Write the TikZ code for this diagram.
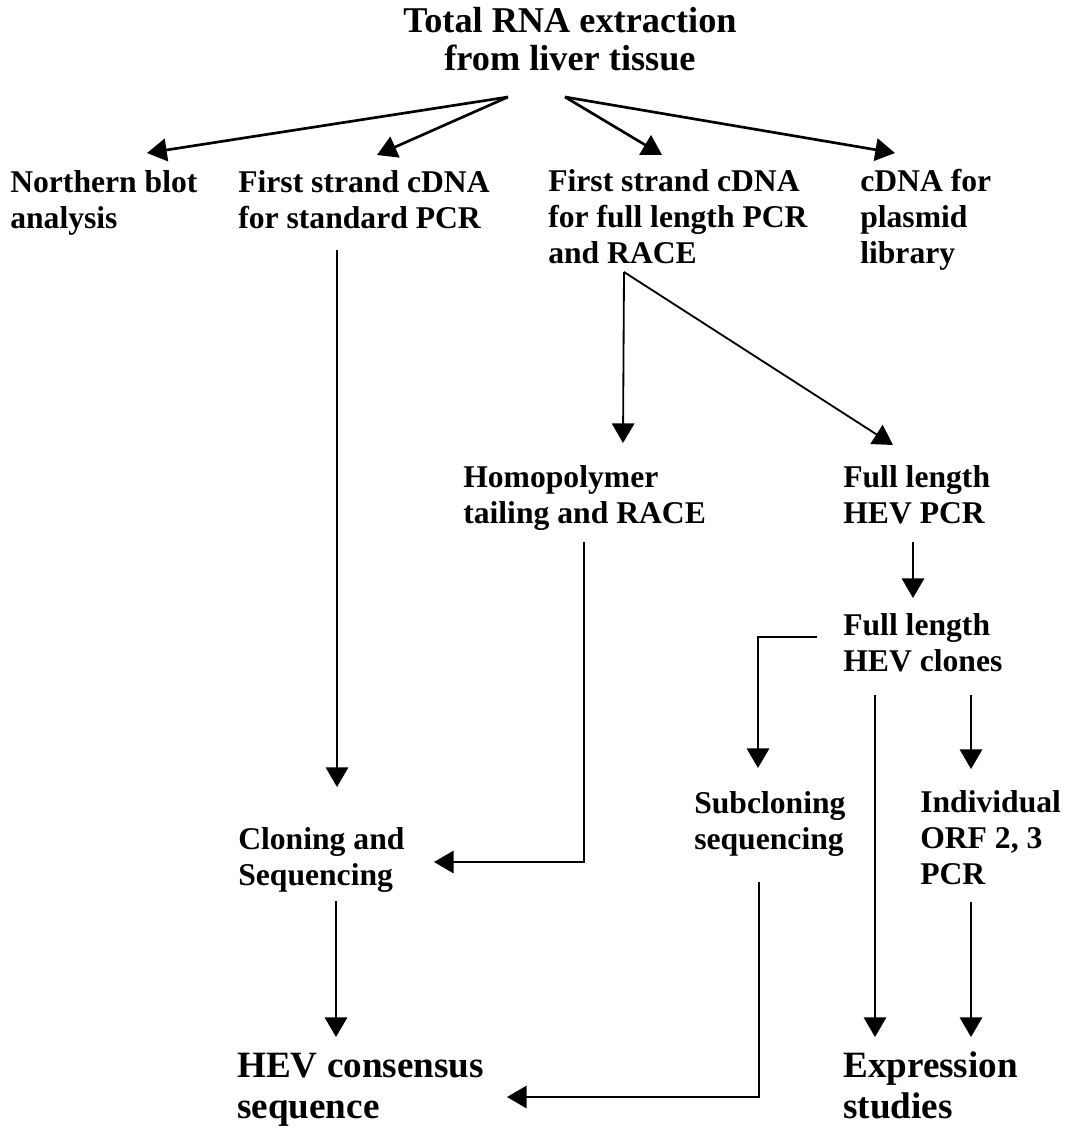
\documentclass[tikz,border=0pt]{standalone}
\usepackage{fontspec}
\setmainfont{Liberation Serif}
\usetikzlibrary{arrows.meta, calc}

\begin{document}
\begin{tikzpicture}[
            x = 0.025cm, y = -0.025cm,
            > = {Triangle[length=14pt, width=16pt]},
            stage/.style = {anchor=base west, align=left, inner sep=0pt,
                font=\fontsize{22.5}{25.3}\selectfont\bfseries},
            goal/.style = {stage, font=\fontsize{26.4}{29}\selectfont\bfseries},
            flow/.style = {draw, ->, line width=1.3pt},
            fan/.style = {flow, line width=1.9pt}
        ]
            \useasboundingbox (0,0) rectangle (1066,1133);

            % Source (nodes sit on the baseline of their last line)
            \node[anchor=base, align=center, inner sep=0pt,
                font=\fontsize{25.8}{26.6}\selectfont\bfseries] (rna) at (570,70)
                {Total RNA extraction\\from liver tissue};

            % First products
            \node[stage] (north) at (10,228) {Northern blot\\analysis};
            \node[stage] (stdcdna) at (238,228) {First strand cDNA\\for standard PCR};
            \node[stage] (fullcdna) at (548,263) {First strand cDNA\\for full length PCR\\and RACE};
            \node[stage] (plasmid) at (860,263) {cDNA for\\plasmid\\library};

            % Middle steps
            \node[stage] (homo) at (463,523) {Homopolymer\\tailing and RACE};
            \node[stage] (fullpcr) at (843,523) {Full length\\HEV PCR};
            \node[stage] (clones) at (843,671) {Full length\\HEV clones};
            \node[stage] (subclone) at (694,849) {Subcloning\\sequencing};
            \node[stage] (orf) at (920,884) {Individual\\ORF 2, 3\\PCR};
            \node[stage] (cloning) at (238,885) {Cloning and\\Sequencing};

            % Results
            \node[goal] (consensus) at (237,1118) {HEV consensus\\sequence};
            \node[goal] (expression) at (843,1118) {Expression\\studies};

            % Fan out from RNA
            \draw[fan] ($(rna.base)+(-62,27)$) -- ($(north.base west)+(137,-75)$);
            \draw[fan] ($(rna.base)+(-62,27)$) -- ($(stdcdna.base west)+(139,-73)$);
            \draw[fan] ($(rna.base)+(-5,27)$) -- ($(fullcdna.base west)+(114,-108)$);
            \draw[fan] ($(rna.base)+(-5,27)$) -- ($(plasmid.base west)+(35,-110)$);

            % Standard PCR branch
            \draw[flow] ($(stdcdna.base west)+(99,22)$) -- ($(cloning.base west)+(99,-98)$);
            \draw[flow] ($(cloning.base west)+(98,16)$) -- ($(consensus.base west)+(99,-81)$);

            % Full length branch
            \draw[flow] ($(fullcdna.base west)+(76,9)$) -- ($(homo.base west)+(160,-80)$);
            \draw[flow] ($(fullcdna.base west)+(76,9)$) -- ($(fullpcr.base west)+(50,-78)$);
            \draw[flow] ($(homo.base west)+(121,19)$) |- ($(cloning.base west)+(196,-23)$);
            \draw[flow] ($(fullpcr.base west)+(70,19)$) -- ($(clones.base west)+(70,-73)$);

            % From the clones
            \draw[flow] ($(clones.base west)+(-26,-34)$) -| ($(subclone.base west)+(64,-81)$);
            \draw[flow] ($(clones.base west)+(32,24)$) -- ($(expression.base west)+(32,-81)$);
            \draw[flow] ($(clones.base west)+(128,24)$) -- ($(orf.base west)+(51,-115)$);
            \draw[flow] ($(subclone.base west)+(65,33)$) |- ($(consensus.base west)+(270,-21)$);
            \draw[flow] ($(orf.base west)+(51,18)$) -- ($(expression.base west)+(128,-81)$);

        \end{tikzpicture}
\end{document}
